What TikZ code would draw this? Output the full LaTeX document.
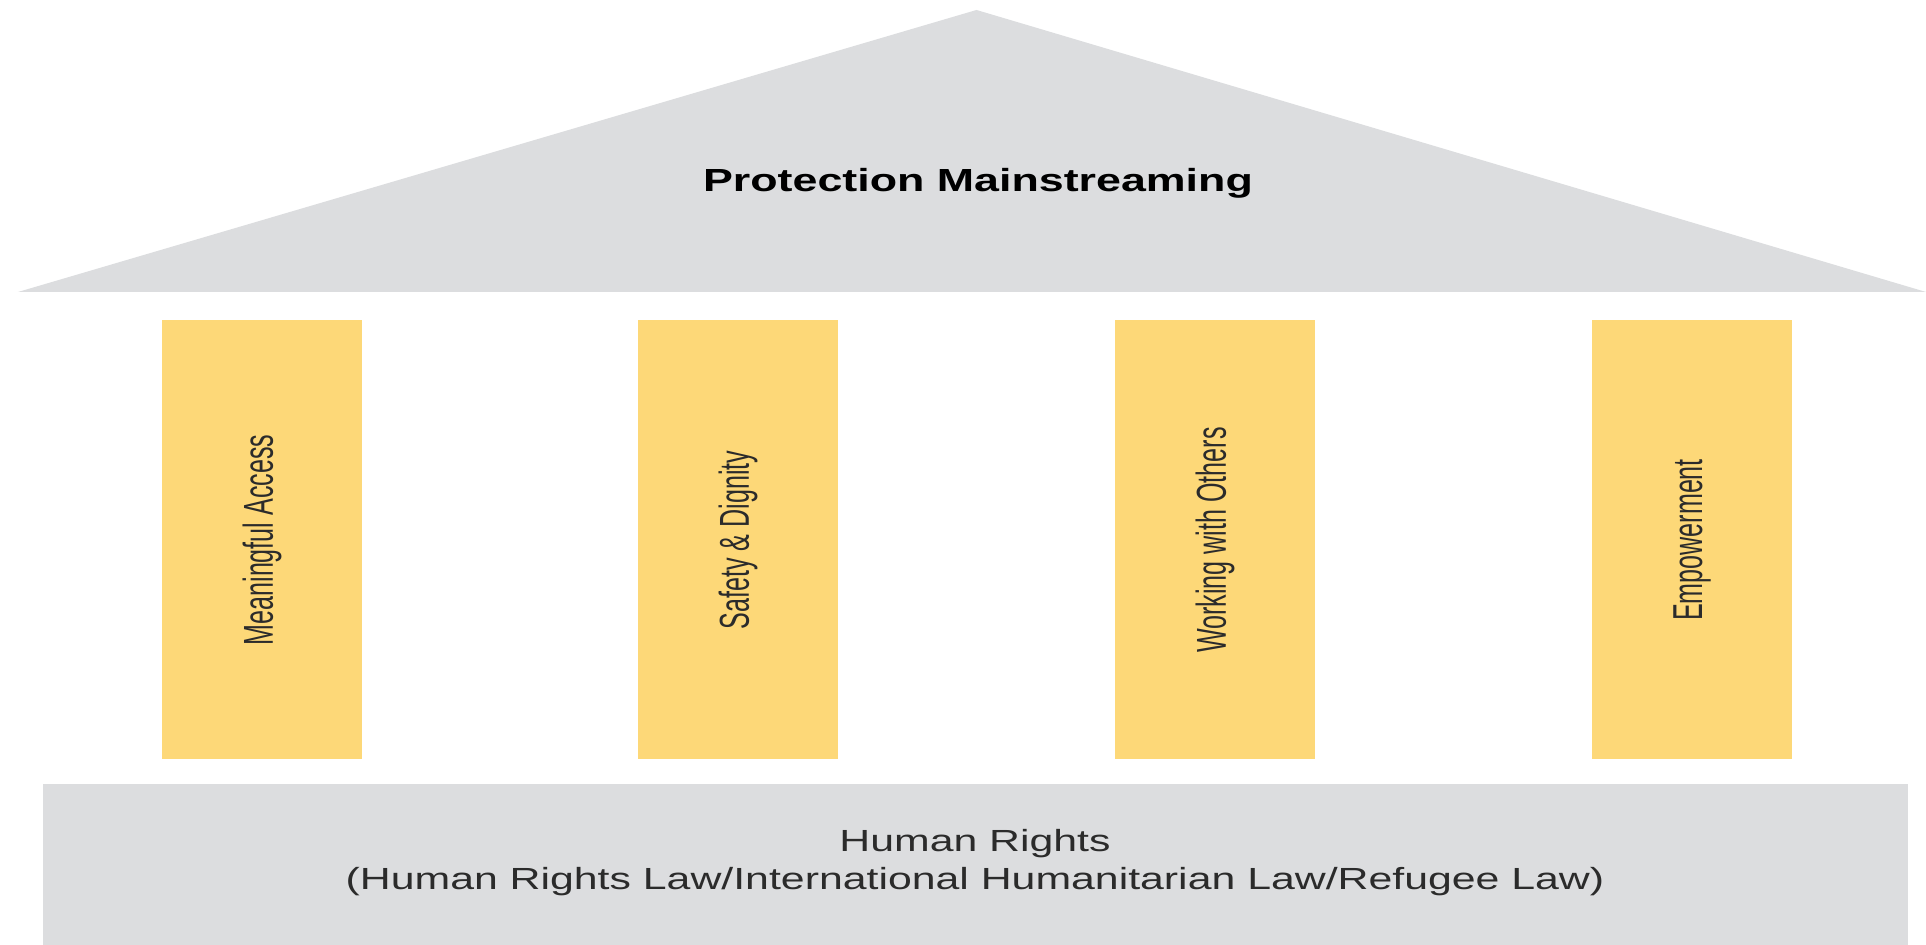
\documentclass[tikz,border=0pt]{standalone}
\usepackage{fontspec}
\setmainfont{Liberation Sans}
\newfontfamily\widefont{Liberation Sans}[FakeStretch=1.4]
\newfontfamily\tallfont{Liberation Sans}[FakeStretch=0.6]
\definecolor{roofgrey}{HTML}{DCDDDF}
\definecolor{pillaryellow}{HTML}{FDD878}
\definecolor{textgrey}{HTML}{2B2B2B}
\tikzset{
  pillar/.style={fill=pillaryellow, rotate=90, minimum width=4.39cm, minimum height=2cm,
    inner sep=0pt, text=textgrey, font=\tallfont\fontsize{11.9}{13}\selectfont},
}

\begin{document}
\begin{tikzpicture}
    \useasboundingbox (0,0) rectangle (19.26,9.45);
    % roof
    \fill[roofgrey] (0.18,6.53) -- (9.765,9.35) -- (19.26,6.53) -- cycle;
    \node[font=\widefont\bfseries\fontsize{9.1}{11}\selectfont] (roof) at (9.78,7.62) {Protection Mainstreaming};
    % pillars
    \foreach \i/\x/\txt in {1/2.62/Meaningful Access, 2/7.38/Safety \& Dignity,
                            3/12.15/Working with Others, 4/16.92/Empowerment}
      \node[pillar] (p\i) at (\x,4.05) {\txt};
    % base
    \fill[roofgrey] (0.43,0) rectangle (19.08,1.61);
    \node[align=center, text=textgrey, font=\widefont\fontsize{8.7}{10.8}\selectfont] (base) at (9.75,0.82)
      {Human Rights\\(Human Rights Law/International Humanitarian Law/Refugee Law)};
\end{tikzpicture}
\end{document}
